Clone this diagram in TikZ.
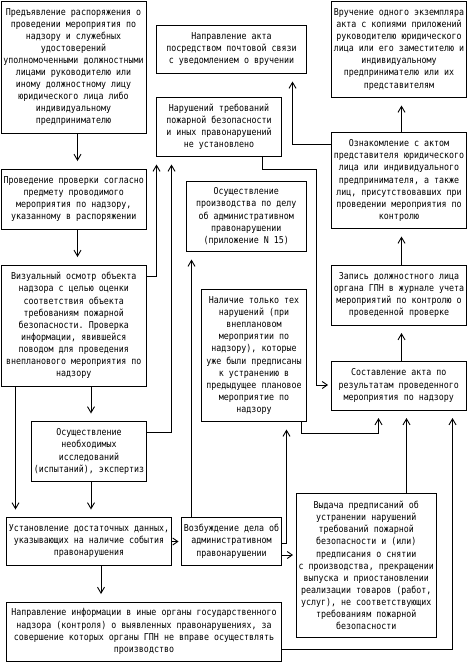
\documentclass[tikz,border=0pt]{standalone}
\usepackage{fontspec}
\setmonofont[FakeStretch=0.875]{DejaVu Sans Mono}
\usetikzlibrary{arrows.meta}
\tikzset{
  box/.style={draw, line width=0.9pt, inner sep=0pt, outer sep=0pt, align=center,
    font=\ttfamily\fontsize{9.5}{12.1}\selectfont},
  conn/.style={line width=0.9pt},
  arr/.style={conn, -{Straight Barb[length=6pt,width=7pt]}, shorten >=8pt},
  harr/.style={conn, -{Straight Barb[length=5pt,width=7pt]}, shorten >=3pt},
}
\begin{document}
\begin{tikzpicture}[x=1pt,y=-1pt]
\useasboundingbox (0,0) rectangle (469,664);
\node[box, minimum width=145pt, minimum height=132pt] (b1) at (73.5,67) {Предъявление распоряжения о\\проведении мероприятия по\\надзору и служебных\\удостоверений\\уполномоченными должностными\\лицами руководителю или\\иному должностному лицу\\юридического лица либо\\индивидуальному\\предпринимателю};
\node[box, minimum width=145.5pt, minimum height=60pt] (b2) at (73.75,199) {Проведение проверки согласно\\предмету проводимого\\мероприятия по надзору,\\указанному в распоряжении};
\node[box, minimum width=145.5pt, minimum height=121pt] (b3) at (73.75,325.5) {Визуальный осмотр объекта\\надзора с целью оценки\\соответствия объекта\\требованиям пожарной\\безопасности. Проверка\\информации, явившейся\\поводом для проведения\\внепланового мероприятия по\\надзору};
\node[box, minimum width=115pt, minimum height=60pt] (b4) at (89,451.5) {Осуществление\\необходимых\\исследований\\(испытаний), экспертиз};
\node[box, minimum width=165pt, minimum height=47.5pt] (b5) at (89,541.25) {Установление достаточных данных,\\указывающих на наличие события\\правонарушения};
\node[box, minimum width=275pt, minimum height=59pt] (b6) at (144,631.5) {Направление информации в иные органы государственного\\надзора (контроля) о выявленных правонарушениях, за\\совершение которых органы ГПН не вправе осуществлять\\производство};
\node[box, minimum width=100pt, minimum height=47.5pt] (b7) at (231.5,541.25) {Возбуждение дела об\\административном\\правонарушении};
\node[box, minimum width=140.5pt, minimum height=144pt] (b8) at (366.25,565.5) {Выдача предписаний об\\устранении нарушений\\требований пожарной\\безопасности и (или)\\предписания о снятии\\с производства, прекращении\\выпуска и приостановлении\\реализации товаров (работ,\\услуг), не соответствующих\\требованиям пожарной\\безопасности};
\node[box, minimum width=135.5pt, minimum height=49pt] (b9) at (398.75,385.5) {Составление акта по\\результатам проведенного\\мероприятия по надзору};
\node[box, minimum width=135pt, minimum height=60pt] (b10) at (399,295) {Запись должностного лица\\органа ГПН в журнале учета\\мероприятий по контролю о\\проведенной проверке};
\node[box, minimum width=135pt, minimum height=96pt] (b11) at (399,180.5) {Ознакомление с актом\\представителя юридического\\лица или индивидуального\\предпринимателя, а также\\лиц, присутствовавших при\\проведении мероприятия по\\контролю};
\node[box, minimum width=135pt, minimum height=96.5pt] (b12) at (399,49.25) {Вручение одного экземпляра\\акта с копиями приложений\\руководителю юридического\\лица или его заместителю и\\индивидуальному\\предпринимателю или их\\представителям};
\node[box, minimum width=150pt, minimum height=48.5pt] (b13) at (231.5,49.25) {Направление акта\\посредством почтовой связи\\с уведомлением о вручении};
\node[box, minimum width=125pt, minimum height=59pt] (b14) at (219,127) {Нарушений требований\\пожарной безопасности\\и иных правонарушений\\не установлено};
\node[box, minimum width=120.5pt, minimum height=70pt] (b15) at (246.25,216.5) {Осуществление\\производства по делу\\об административном\\правонарушении\\(приложение N 15)};
\node[box, minimum width=105pt, minimum height=132pt] (b16) at (254,355.5) {Наличие только тех\\нарушений (при\\внеплановом\\мероприятии по\\надзору), которые\\уже были предписаны\\к устранению в\\предыдущее плановое\\мероприятие по\\надзору};
% connectors
\draw[arr] (77.5,0 |- b1.south) -- (77.5,0 |- b2.north);
\draw[arr] (77.5,0 |- b2.south) -- (77.5,0 |- b3.north);
\draw[arr] (b3.east |- 0,276.5) -- (156.5,276.5) -- (156.5,0 |- b14.south);
\draw[arr] (91,0 |- b3.south) -- (91,0 |- b4.north);
\draw[arr] (15.5,0 |- b3.south) -- (15.5,0 |- b5.north);
\draw[arr] (91,0 |- b4.south) -- (91,0 |- b5.north);
\draw[arr] (b4.east |- 0,432) -- (171.5,432) -- (171.5,0 |- b14.south);
\draw[harr] (b5.east |- 0,541.5) -- (b7.west |- 0,541.5);
\draw[arr] (101,0 |- b5.south) -- (101,0 |- b6.north);
\draw[arr] (191.5,0 |- b7.north) -- (191.5,0 |- b15.south);
\draw[arr] (b7.east |- 0,543) -- (286.5,543) -- (286.5,0 |- b16.south);
\draw[harr] (b7.east |- 0,555) -- (b8.west |- 0,555);
\draw[arr] (301.5,0 |- b16.south) -- (301.5,433.5) -- (378.5,433.5) -- (378.5,0 |- b9.south);
\draw[arr] (406.5,0 |- b8.north) -- (406.5,0 |- b9.south);
\draw[arr] (b6.east |- 0,649.5) -- (452.5,649.5) -- (452.5,0 |- b9.south);
\draw[harr] (262,0 |- b14.south) -- (262,169) -- (316,169) -- (316,385) -- (b9.west |- 0,385);
\draw[arr] (401.5,0 |- b9.north) -- (401.5,0 |- b10.south);
\draw[arr] (401.5,0 |- b10.north) -- (401.5,0 |- b11.south);
\draw[arr] (401.5,0 |- b11.north) -- (401.5,0 |- b12.south);
\draw[arr] (b11.west |- 0,144.5) -- (292.5,144.5) -- (292.5,0 |- b13.south);
\end{tikzpicture}
\end{document}
